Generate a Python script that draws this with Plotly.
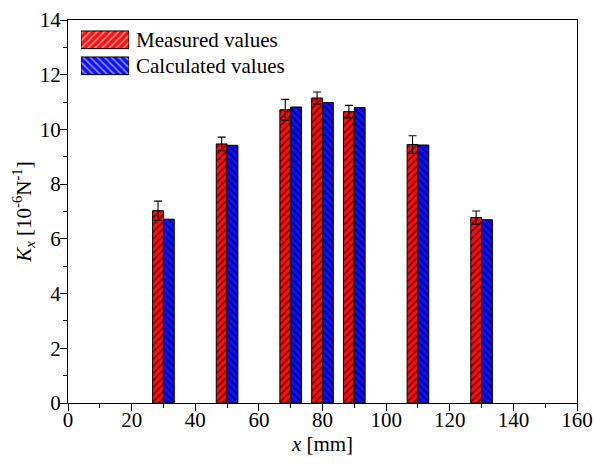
import plotly.graph_objects as go

# Positions along the sample [mm]
positions = [30, 50, 70, 80, 90, 110, 130]
# Stiffness values K_x [10^-6 N^-1]
measured = [7.03, 9.47, 10.72, 11.15, 10.65, 9.45, 6.78]
measured_err = [0.35, 0.25, 0.38, 0.22, 0.23, 0.32, 0.24]
calculated = [6.72, 9.42, 10.82, 10.98, 10.80, 9.43, 6.70]

series_names = ["Measured values", "Calculated values"]

x_major = list(range(0, 161, 20))
x_minor = list(range(10, 160, 20))
y_major = list(range(0, 15, 2))
y_minor = list(range(1, 14, 2))

BAR_W = 3.4
FONT = "Liberation Serif"
RED = "#ff0d0d"
BLUE = "#0d0dff"


def hatch(color, shape):
    return dict(color=color, line=dict(color="black", width=1),
                pattern=dict(shape=shape, fgcolor="black", bgcolor=color,
                             size=5, solidity=0.35, fillmode="overlay"))


fig = go.Figure()
fig.add_trace(go.Bar(
    x=positions, y=measured, name=series_names[0],
    width=BAR_W, offset=-BAR_W, marker=hatch(RED, "/"), showlegend=False,
    error_y=dict(type="data", array=measured_err, color="black",
                 thickness=1.1, width=4),
))
fig.add_trace(go.Bar(
    x=positions, y=calculated, name=series_names[1],
    width=BAR_W, offset=0, marker=hatch(BLUE, "\\"), showlegend=False,
))

# Key: wide hatched swatches on a small inset axis, names as its tick labels
fig.add_trace(go.Bar(
    y=series_names, x=[1, 1], orientation="h", width=0.68,
    xaxis="x2", yaxis="y2", showlegend=False, hoverinfo="skip",
    cliponaxis=False,
    marker=dict(color=[RED, BLUE], line=dict(color="black", width=1),
                pattern=dict(shape=["/", "\\"], fgcolor="black",
                             bgcolor=[RED, BLUE], size=5, solidity=0.35,
                             fillmode="overlay")),
))

tick_font = dict(family=FONT, size=21, color="black")
minor_ticks = dict(ticks="outside", ticklen=4, tickwidth=1.2,
                   tickcolor="black")
axis_common = dict(
    showline=True, linecolor="black", linewidth=1.3, mirror=True,
    showgrid=False, zeroline=False, automargin=False,
    ticks="outside", ticklen=7, tickwidth=1.2, tickcolor="black",
    tickfont=tick_font,
)

fig.update_layout(
    width=595, height=465,
    margin=dict(l=68, r=18, t=20, b=62),
    paper_bgcolor="white", plot_bgcolor="white",
    barmode="overlay",
    showlegend=False,
    xaxis=dict(
        range=[0, 160], tickvals=x_major, ticklabelstandoff=-9,
        minor=dict(tickvals=x_minor, **minor_ticks),
        title=dict(text="<i>x</i> [mm]", standoff=0, font=tick_font),
        **axis_common,
    ),
    yaxis=dict(
        range=[0, 14], tickvals=y_major, ticklabelstandoff=-5,
        minor=dict(tickvals=y_minor, **minor_ticks),
        title=dict(text="<i>K<sub>x</sub></i> [10<sup>-6</sup>N<sup>-1</sup>]",
                   standoff=2, font=tick_font),
        **axis_common,
    ),
    xaxis2=dict(domain=[0.0255, 0.1198], range=[0, 1], anchor="y2",
                visible=False, fixedrange=True),
    yaxis2=dict(domain=[0.8465, 0.9822], anchor="x2", side="right",
                autorange="reversed", showline=False, showgrid=False,
                zeroline=False, ticks="", ticklabelstandoff=6,
                tickfont=dict(family=FONT, size=21, color="black"),
                automargin=False, fixedrange=True),
)

fig.write_html("out.html")
